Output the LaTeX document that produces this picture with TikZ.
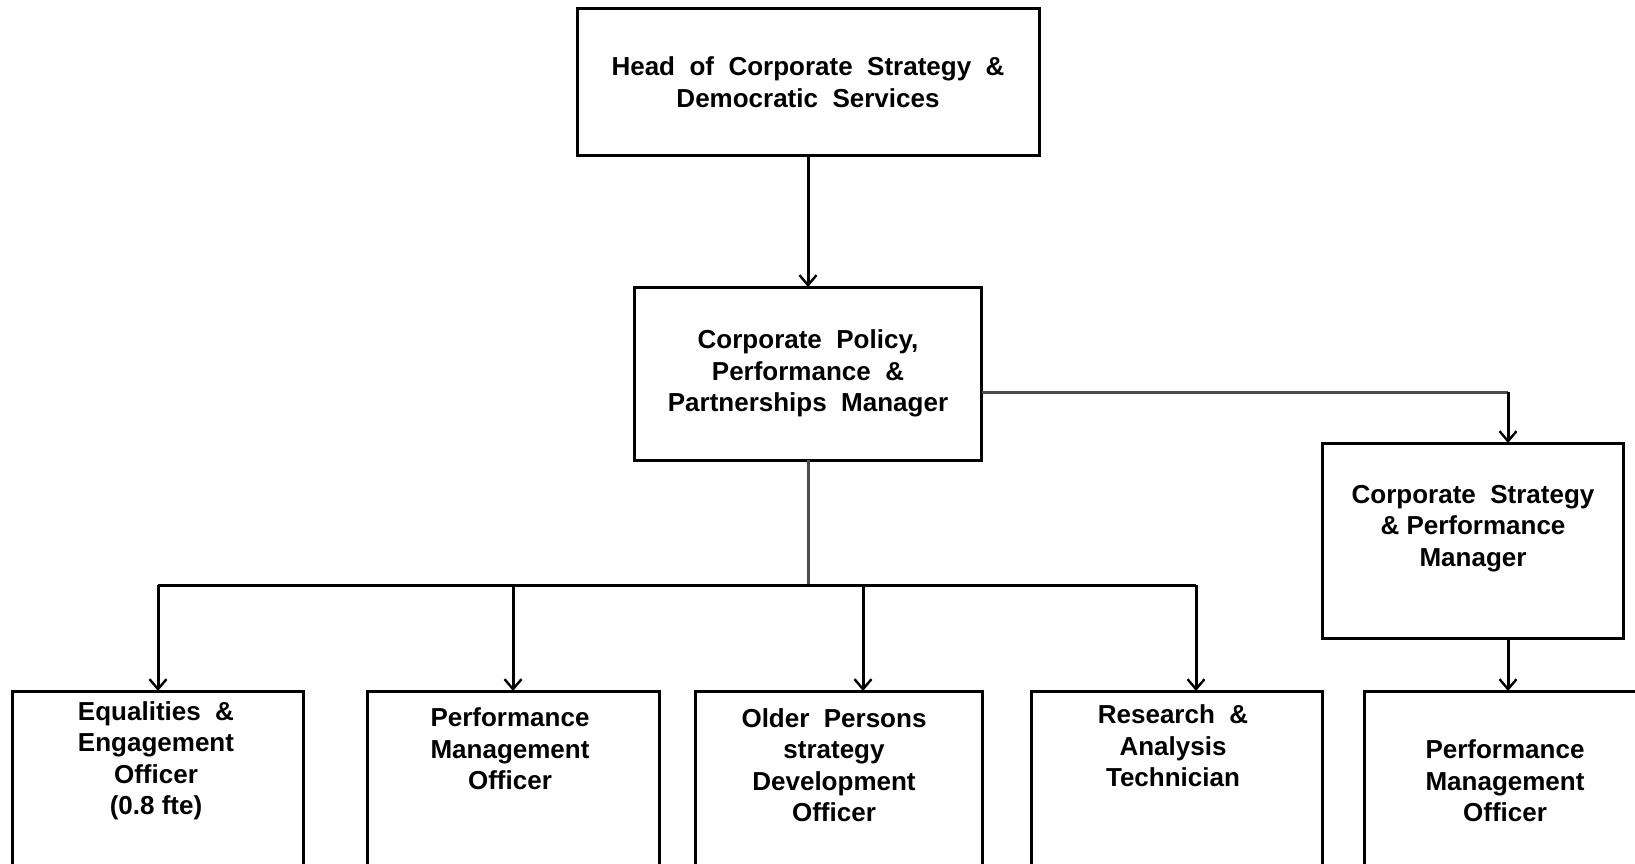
\documentclass[tikz,border=0pt]{standalone}
\usepackage{fontspec}
\setmainfont{Liberation Sans}
\usetikzlibrary{arrows.meta}

\begin{document}
\begin{tikzpicture}[x=1pt,y=-1pt,
  box/.style={draw=black,line width=3pt,rectangle,inner sep=0pt,outer sep=0pt},
  lbl/.style={align=center,inner sep=0pt,font=\bfseries\fontsize{26}{31.5}\selectfont},
  link/.style={draw=black,line width=3pt},
  feed/.style={draw=black!70,line width=3pt},
  arr/.style={link,-{Straight Barb[length=10pt,width=17pt,line width=2.4pt]}}]

\useasboundingbox (0,0) rectangle (1635,864);
\fill[white] (0,0) rectangle (1635,864);
\clip (0,0) rectangle (1635,864);

% boxes
\node[box,lbl,minimum width=462pt,minimum height=146pt] (head) at (808,82)
  {Head\ \ of\ \ Corporate\ \ Strategy\ \ \&\\Democratic\ \ Services};
\node[box,lbl,minimum width=347pt,minimum height=173pt] (mid) at (808,373.5)
  {Corporate\ \ Policy,\\Performance\ \ \&\\Partnerships\ \ Manager};
\node[box,minimum width=301pt,minimum height=195pt] (csp) at (1472.5,540.5) {};
\node[lbl] (csptxt) at (1473,528.5) {Corporate\ \ Strategy\\\& Performance\\Manager};

\node[box,anchor=north,minimum width=290.5pt,minimum height=260pt] (b1) at (157.75,691) {};
\node[box,anchor=north,minimum width=292pt,minimum height=260pt] (b2) at (513,691) {};
\node[box,anchor=north,minimum width=287pt,minimum height=260pt] (b3) at (838.5,691) {};
\node[box,anchor=north,minimum width=291pt,minimum height=260pt] (b4) at (1176.5,691) {};
\node[box,anchor=north,minimum width=290pt,minimum height=260pt] (b5) at (1509,691) {};

\node[lbl] (b1txt) at (156,761) {Equalities\ \ \&\\Engagement\\Officer\\(0.8 fte)};
\node[lbl] (b2txt) at (510,749) {Performance\\Management\\Officer};
\node[lbl] (b3txt) at (834,765) {Older\ \ Persons\\strategy\\Development\\Officer};
\node[lbl] (b4txt) at (1173,746) {Research\ \ \&\\Analysis\\Technician};
\node[lbl] (b5txt) at (1505,781) {Performance\\Management\\Officer};

% junction points
\coordinate (rc) at (1508,392);
\coordinate (bus) at (808,585);
\coordinate (j1) at (158,585);
\coordinate (j2) at (513,585);
\coordinate (j3) at (863,585);
\coordinate (j4) at (1196,585);

% connectors
\draw[arr] (head.south) -- (mid.north);
\draw[feed] (mid.east |- rc) -- (rc);
\draw[arr] (rc) -- (csp.north -| rc);
\draw[arr] (csp.south -| rc) -- (b5.north -| rc);
\draw[feed] (mid.south) -- (bus);
\draw[link] (j1) -- (j4);
\draw[arr] (j1) -- (b1.north -| j1);
\draw[arr] (j2) -- (b2.north -| j2);
\draw[arr] (j3) -- (b3.north -| j3);
\draw[arr] (j4) -- (b4.north -| j4);
\end{tikzpicture}
\end{document}
